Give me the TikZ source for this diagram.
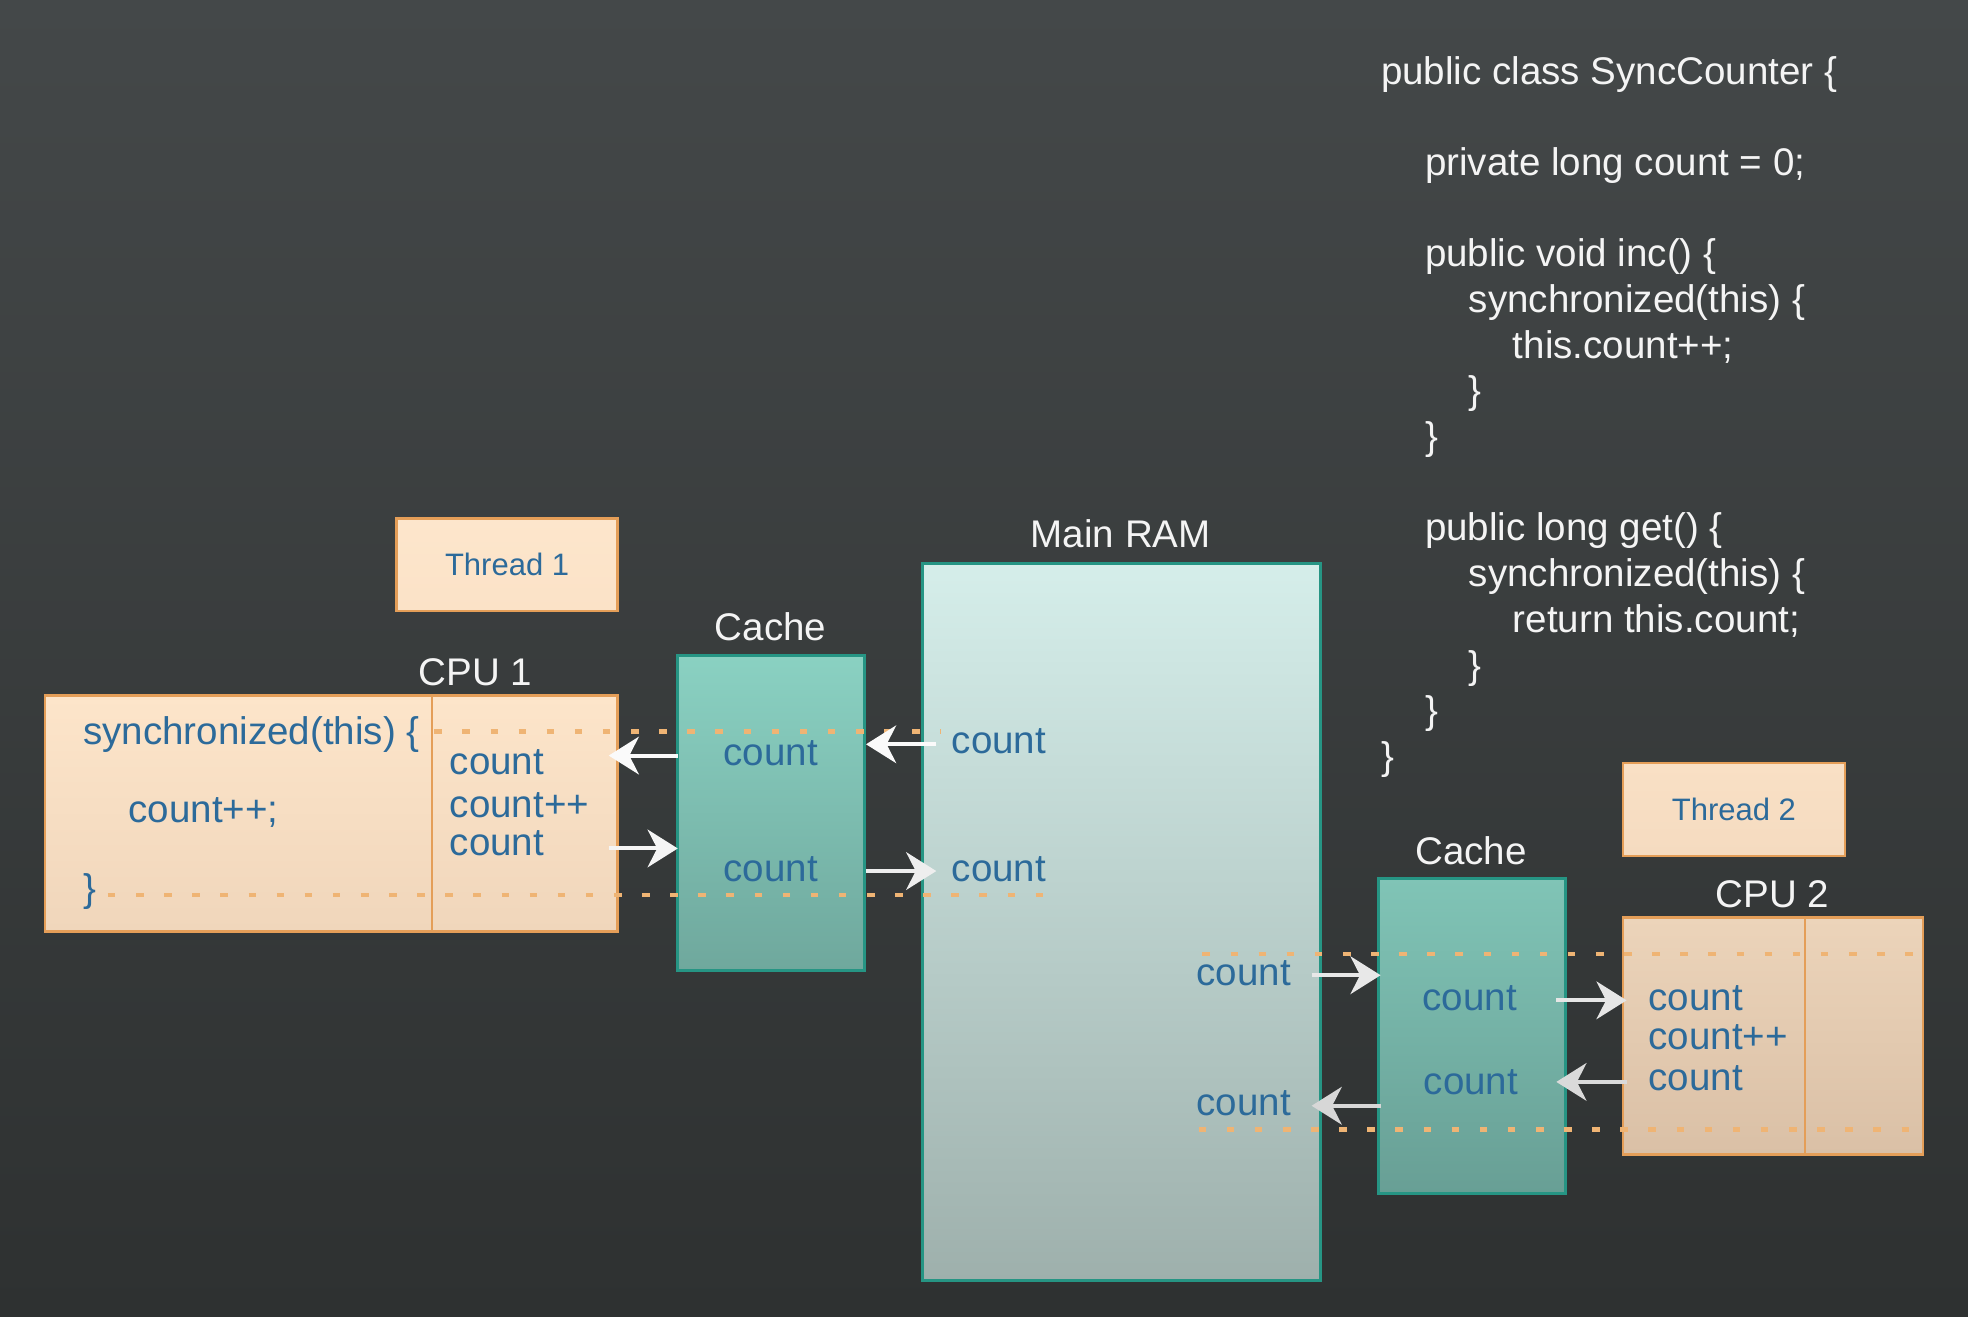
\documentclass[tikz,border=0pt]{standalone}
\usepackage{fontspec}
\setmainfont{Liberation Sans}
\usetikzlibrary{arrows.meta}
\definecolor{bgtop}{HTML}{444849}
\definecolor{bgbot}{HTML}{2E3131}
\definecolor{txtblue}{HTML}{2C6A9A}
\definecolor{codewhite}{HTML}{F4F4F4}
\definecolor{peachborder}{HTML}{E49E58}
\definecolor{dotorange}{HTML}{EFB474}
\definecolor{tealborder}{HTML}{269584}
\definecolor{thAt}{RGB}{253,230,204}
\definecolor{thAb}{RGB}{251,226,199}
\definecolor{cpuAt}{RGB}{253,229,202}
\definecolor{cpuAb}{RGB}{240,214,187}
\definecolor{caAt}{RGB}{138,209,194}
\definecolor{caAb}{RGB}{111,168,157}
\definecolor{ramt}{RGB}{213,238,234}
\definecolor{ramb}{RGB}{158,176,172}
\definecolor{caBt}{RGB}{128,196,182}
\definecolor{caBb}{RGB}{104,159,149}
\definecolor{thBt}{RGB}{249,224,197}
\definecolor{thBb}{RGB}{245,219,192}
\definecolor{cpuBt}{RGB}{236,212,186}
\definecolor{cpuBb}{RGB}{218,192,166}
\definecolor{ar1}{RGB}{250,250,250}
\definecolor{ar2}{RGB}{245,245,245}
\definecolor{ar4}{RGB}{238,238,238}
\definecolor{ar5}{RGB}{232,232,232}
\definecolor{ar6}{RGB}{215,215,215}
\definecolor{ar7}{RGB}{230,230,230}
\definecolor{ar8}{RGB}{218,218,218}
\tikzset{
  big/.style={font=\fontsize{15.35}{18}\selectfont},
  code/.style={big, text=codewhite, inner sep=0pt, anchor=base west},
  title/.style={big, text=codewhite, inner sep=0pt, anchor=base},
  cnt/.style={big, text=txtblue, inner sep=0pt, anchor=base west},
  cntc/.style={big, text=txtblue, inner sep=0pt, anchor=base},
  thr/.style={text=txtblue, font=\fontsize{12.35}{14}\selectfont, inner sep=0pt},
  peachbox/.style={draw=peachborder, line width=1pt, inner sep=0pt, outer sep=0pt, anchor=north west},
  tealbox/.style={draw=tealborder, line width=1.2pt, inner sep=0pt, outer sep=0pt, anchor=north west},
  dotline/.style={draw=dotorange, line width=1.8pt, dash pattern=on 3pt off 8.2pt},
  arr/.style={line width=1.6pt, -{Stealth[length=12pt, width=15pt, inset=3.8pt]}},
}
\begin{document}
\begin{tikzpicture}[x=0.5pt,y=-0.5pt]
% background
\path[use as bounding box, top color=bgtop, bottom color=bgbot] (0,0) rectangle (1568,1048.6);

% boxes
\node[peachbox, top color=thAt, bottom color=thAb, minimum width=88pt, minimum height=37pt] (thread1) at (316,413) {};
\node[peachbox, top color=cpuAt, bottom color=cpuAb, minimum width=228pt, minimum height=94pt] (cpu1) at (36,554) {};
\draw[peachborder, line width=1pt] (cpu1.north west) ++(308,0) coordinate (div1t) -- (div1t |- cpu1.south);

\node[tealbox, top color=caAt, bottom color=caAb, minimum width=74.5pt, minimum height=125.5pt] (cache1) at (540,522) {};

\node[tealbox, top color=ramt, bottom color=ramb, minimum width=158.5pt, minimum height=285.5pt] (ram) at (735,449) {};

\node[tealbox, top color=caBt, bottom color=caBb, minimum width=74.5pt, minimum height=125.5pt] (cache2) at (1098,700) {};

\node[peachbox, top color=thBt, bottom color=thBb, minimum width=88.5pt, minimum height=37pt] (thread2) at (1293,608) {};
\node[peachbox, top color=cpuBt, bottom color=cpuBb, minimum width=119.5pt, minimum height=94.5pt] (cpu2) at (1293,731) {};
\draw[peachborder, line width=1pt] (cpu2.north west) ++(145,0) coordinate (div2t) -- (div2t |- cpu2.south);

% dotted lines
\coordinate (d1a) at (346,583); \coordinate (d1b) at (750,583);
\coordinate (d2a) at (86,713);  \coordinate (d2b) at (832,713);
\coordinate (d3a) at (958,760); \coordinate (d3b) at (1526,760);
\coordinate (d4a) at (955,900); \coordinate (d4b) at (1526,900);
\draw[dotline] (d1a) -- (d1b);
\draw[dotline] (d2a) -- (d2b);
\draw[dotline] (d3a) -- (d3b);
\draw[dotline] (d4a) -- (d4b);

% arrows
\coordinate (a1s) at (540,602);  \coordinate (a1e) at (485,602);
\coordinate (a2s) at (485,676);  \coordinate (a2e) at (540,676);
\coordinate (a3s) at (746,593);  \coordinate (a3e) at (690,593);
\coordinate (a4s) at (690,694);  \coordinate (a4e) at (746,694);
\coordinate (a5s) at (1045,777); \coordinate (a5e) at (1100,777);
\coordinate (a6s) at (1100,881); \coordinate (a6e) at (1045,881);
\coordinate (a7s) at (1240,797); \coordinate (a7e) at (1296,797);
\coordinate (a8s) at (1296,862); \coordinate (a8e) at (1240,862);
\draw[arr, draw=ar1, fill=ar1] (a1s) -- (a1e);
\draw[arr, draw=ar2, fill=ar2] (a2s) -- (a2e);
\draw[arr, draw=ar1, fill=ar1] (a3s) -- (a3e);
\draw[arr, draw=ar4, fill=ar4] (a4s) -- (a4e);
\draw[arr, draw=ar5, fill=ar5] (a5s) -- (a5e);
\draw[arr, draw=ar6, fill=ar6] (a6s) -- (a6e);
\draw[arr, draw=ar7, fill=ar7] (a7s) -- (a7e);
\draw[arr, draw=ar8, fill=ar8] (a8s) -- (a8e);

% titles
\node[title] (tram) at (893,436) {Main RAM};
\node[title] (tcache1) at (614,510) {Cache};
\node[title] (tcpu1) at (379,546) {CPU 1};
\node[title] (tcache2) at (1172,689) {Cache};
\node[title] (tcpu2) at (1412,723) {CPU 2};
\node[thr] (th1) at (thread1.center) {Thread 1};
\node[thr] (th2) at (thread2.center) {Thread 2};

% CPU 1 contents
\node[cnt] (c1l1) at (66,593) {synchronized(this) \{};
\node[cnt] (c1l2) at (102,655) {count++;};
\node[cnt] (c1l3) at (66,718) {\}};
\node[cnt] (c1r1) at (358,617) {count};
\node[cnt] (c1r2) at (358,651) {count++};
\node[cnt] (c1r3) at (358,682) {count};

% cache 1 contents
\node[cntc] (k1a) at (614,610) {count};
\node[cntc] (k1b) at (614,702) {count};

% RAM contents
\node[cnt] (r1) at (758,600) {count};
\node[cnt] (r2) at (758,702) {count};
\node[cnt] (r3) at (953,785) {count};
\node[cnt] (r4) at (953,889) {count};

% cache 2 contents
\node[cntc] (k2a) at (1171,805) {count};
\node[cntc] (k2b) at (1172,872) {count};

% CPU 2 contents
\node[cnt] (c2r1) at (1313,805) {count};
\node[cnt] (c2r2) at (1313,836) {count++};
\node[cnt] (c2r3) at (1313,869) {count};

% code
\node[code] (l0)  at (1100,67)   {public class SyncCounter \{};
\node[code] (l2)  at (1135,139.8) {private long count = 0;};
\node[code] (l4)  at (1135,212.6) {public void inc() \{};
\node[code] (l5)  at (1170,249)  {synchronized(this) \{};
\node[code] (l6)  at (1205,285.4) {this.count++;};
\node[code] (l7)  at (1170,321.8) {\}};
\node[code] (l8)  at (1135,358.2) {\}};
\node[code] (l10) at (1135,431)  {public long get() \{};
\node[code] (l11) at (1170,467.4) {synchronized(this) \{};
\node[code] (l12) at (1205,503.8) {return this.count;};
\node[code] (l13) at (1170,540.2) {\}};
\node[code] (l14) at (1135,576.6) {\}};
\node[code] (l15) at (1100,613)  {\}};
\end{tikzpicture}
\end{document}
